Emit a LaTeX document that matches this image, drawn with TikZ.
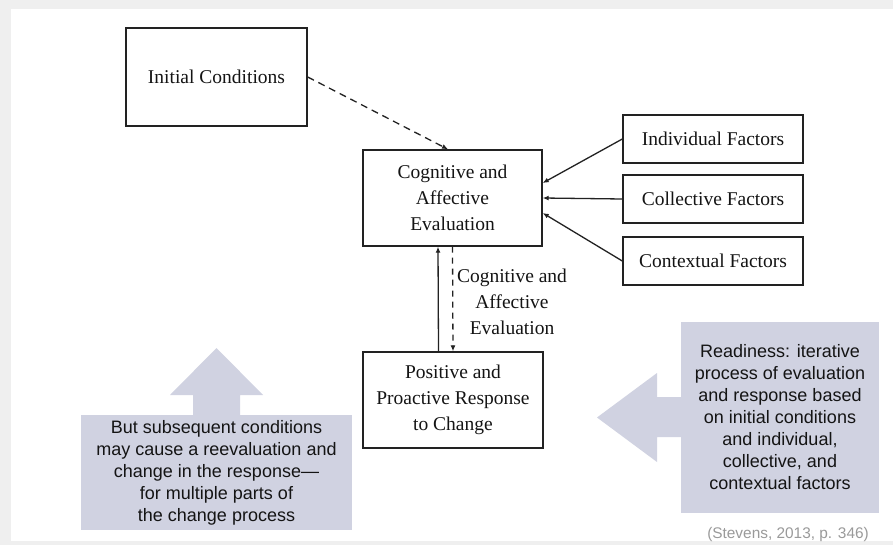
\documentclass[tikz,border=0pt]{standalone}
\usepackage{fontspec}
\setmainfont{Liberation Serif}
\newfontfamily\arialfont{Liberation Sans}
\usetikzlibrary{arrows.meta}
\definecolor{pagegray}{HTML}{EFEFEF}
\definecolor{boxline}{HTML}{222222}
\definecolor{inktext}{HTML}{141414}
\definecolor{calloutfill}{HTML}{D0D2E1}
\definecolor{citegray}{HTML}{9A9A9A}
\tikzset{
  framebox/.style={draw=boxline, line width=1.4pt, rectangle, align=center,
    text=inktext, font=\fontsize{19.5}{26}\selectfont, inner sep=0pt},
  linkarrow/.style={draw=boxline, line width=1.3pt, -{Latex[length=6pt,width=5pt]}},
  calloutbox/.style={fill=calloutfill, draw=none, rectangle, align=center,
    text=inktext, font=\arialfont\fontsize{18}{22}\selectfont, inner sep=0pt},
  calloutarrow/.style={fill=calloutfill, draw=none}
}
\begin{document}
\begin{tikzpicture}[x=1pt, y=-1pt]
  % page background and white sheet
  \fill[pagegray] (0,0) rectangle (893,545);
  \fill[white] (11,9) rectangle (893,541);
  \useasboundingbox (0,0) rectangle (893,545);

  % model boxes
  \node[framebox, minimum width=181pt, minimum height=98pt] (init) at (216.5,77) {Initial Conditions};
  \node[framebox, minimum width=179pt, minimum height=96pt] (cog) at (452.5,198)
    {Cognitive and\\Affective\\Evaluation};
  \node[framebox, minimum width=180pt, minimum height=96pt] (pos) at (453,400)
    {Positive and\\Proactive Response\\to Change};
  \node[framebox, minimum width=180pt, minimum height=48pt] (ind) at (713,139) {Individual Factors};
  \node[framebox, minimum width=180pt, minimum height=48pt] (col) at (713,199) {Collective Factors};
  \node[framebox, minimum width=180pt, minimum height=48pt] (ctx) at (713,261) {Contextual Factors};

  % connectors
  \draw[linkarrow, dash pattern=on 7pt off 5pt] (init.east) -- ([xshift=-4.5pt]cog.north);
  \draw[linkarrow] (ind.west) -- ([yshift=15pt]cog.east);
  \draw[linkarrow] (col.west) -- (cog.east);
  \draw[linkarrow] (ctx.west) -- ([yshift=-15pt]cog.east);
  \draw[linkarrow] ([xshift=-14.5pt]pos.north) -- ([xshift=-14.5pt]cog.south);
  \draw[linkarrow, dash pattern=on 6pt off 5pt] (cog.south) -- (pos.north);
  \node[align=center, text=inktext, font=\fontsize{19.5}{26}\selectfont, inner sep=0pt]
    (looplabel) at (512,302) {Cognitive and\\Affective\\Evaluation};

  % callout on the right with its left-pointing arrow
  \fill[calloutarrow] (682,397) -- (657,397) -- (657,373) -- (597,417.5)
    -- (657,462) -- (657,437) -- (682,437) -- cycle;
  \node[calloutbox, minimum width=198pt, minimum height=191pt] (ready) at (780,417.5)
    {Readiness: iterative\\process of evaluation\\and response based\\on initial conditions\\and individual,\\collective, and\\contextual factors};

  % callout on the left with its upward arrow
  \fill[calloutarrow] (193,416) -- (193,395) -- (170,395) -- (216.5,348)
    -- (263,395) -- (240,395) -- (240,416) -- cycle;
  \node[calloutbox, minimum width=271pt, minimum height=115pt] (subseq) at (216.5,472.5)
    {But subsequent conditions\\may cause a reevaluation and\\change in the response—\\for multiple parts of\\the change process};

  % source
  \node[text=citegray, font=\arialfont\fontsize{15.4}{18}\selectfont, inner sep=0pt]
    (cite) at (788,535) {(Stevens, 2013, p. 346)};
\end{tikzpicture}
\end{document}
